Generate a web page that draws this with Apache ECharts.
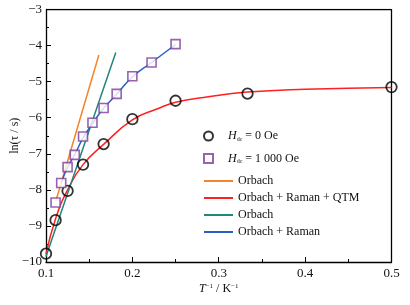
<!DOCTYPE html>
<html>
<head>
<meta charset="utf-8">
<script src="https://cdn.jsdelivr.net/npm/echarts@6/dist/echarts.min.js"></script>
<style>
  html, body { margin: 0; padding: 0; background: #fff; }
  #chart { width: 410px; height: 305px; }
</style>
</head>
<body>
<div id="chart"></div>
<script>
// data
const h0X = [0.1, 0.1111, 0.125, 0.1429, 0.1667, 0.2, 0.25, 0.3333, 0.5];
const h0Y = [-9.77, -8.84, -8.03, -7.30, -6.73, -6.04, -5.53, -5.33, -5.15];

const h1000X = [0.1111, 0.1176, 0.125, 0.1333, 0.1429, 0.1538, 0.1667, 0.1818, 0.2, 0.2222, 0.25];
const h1000Y = [-8.35, -7.81, -7.37, -7.03, -6.52, -6.14, -5.73, -5.34, -4.85, -4.47, -3.96];

// fitted curves (traced)
const orbach0X = [0.1115, 0.1612];
const orbach0Y = [-8.30, -4.26];
const qtmX = [0.1, 0.1111, 0.125, 0.1429, 0.1667, 0.2, 0.2283, 0.25, 0.2824, 0.3333, 0.4, 0.5];
const qtmY = [-9.78, -8.80, -8.00, -7.30, -6.74, -6.06, -5.76, -5.57, -5.44, -5.29, -5.21, -5.16];
const orbach1X = [0.1, 0.1808];
const orbach1Y = [-9.85, -4.19];
const ramanX = [0.1176, 0.125, 0.1333, 0.1429, 0.1538, 0.1667, 0.1818, 0.2, 0.2222, 0.25];
const ramanY = [-7.80, -7.38, -7.02, -6.56, -6.16, -5.74, -5.35, -4.87, -4.47, -3.97];

const xTicks = [0.1, 0.2, 0.3, 0.4, 0.5];
const yTicks = [-10, -9, -8, -7, -6, -5, -4, -3];

const FONT = '"Liberation Serif", "DejaVu Serif", serif';
const zip = (xs, ys) => xs.map((x, i) => [x, ys[i]]);

function lineSeries(name, xs, ys, color) {
  return {
    name: name,
    type: 'line',
    data: zip(xs, ys),
    smooth: xs.length > 2,
    symbol: 'none',
    lineStyle: { color: color, width: 1.5 },
    itemStyle: { color: color },
    z: 2
  };
}

const chart = echarts.init(document.getElementById('chart'));
chart.setOption({
  animation: false,
  textStyle: { fontFamily: FONT },
  grid: { left: 46, right: 18.5, top: 9.5, bottom: 43, outerBoundsMode: 'none' },
  legend: [
    {
      data: [
        { name: 'H0', icon: 'circle' },
        { name: 'H1000', icon: 'path://M0,0L10,0L10,10L0,10Z' }
      ],
      left: 198,
      top: 124,
      orient: 'vertical',
      itemWidth: 29,
      itemHeight: 9,
      itemGap: 8.5,
      symbolKeepAspect: true,
      formatter: function (name) {
        return name === 'H0'
          ? '{i|H}{sub|dc} = 0 Oe'
          : '{i|H}{sub|dc} = 1 000 Oe';
      },
      textStyle: {
        fontFamily: FONT, fontSize: 12, color: '#111', lineHeight: 14,
        rich: {
          i: { fontFamily: FONT, fontSize: 12, fontStyle: 'italic', color: '#111', lineHeight: 14 },
          sub: { fontFamily: FONT, fontSize: 6, color: '#111', lineHeight: 14, padding: [6, 0, 0, 0] }
        }
      }
    },
    {
      data: ['Orbach', 'Orbach + Raman + QTM', 'Orbach ', 'Orbach + Raman'],
      left: 198,
      top: 169,
      orient: 'vertical',
      itemWidth: 29,
      itemHeight: 10,
      itemGap: 3,
      itemStyle: { opacity: 0 },
      textStyle: { fontFamily: FONT, fontSize: 12, color: '#111', lineHeight: 14 }
    }
  ],
  xAxis: {
    type: 'value',
    min: 0.1,
    max: 0.5,
    interval: 0.1,
    name: '{i|T}{sup|\u22121} / K{sup|\u22121}',
    nameLocation: 'middle',
    nameGap: 21,
    nameMoveOverlap: false,
    nameTextStyle: {
      fontFamily: FONT, fontSize: 12, color: '#111',
      rich: {
        i: { fontFamily: FONT, fontSize: 12, fontStyle: 'italic', color: '#111' },
        sup: { fontFamily: FONT, fontSize: 7, color: '#111', padding: [0, 0, 5, 0] }
      }
    },
    axisLine: { show: true, lineStyle: { color: '#000', width: 1.3 } },
    axisTick: { inside: true, length: 5, lineStyle: { color: '#000' } },
    minorTick: { show: true, splitNumber: 2, length: 3, lineStyle: { color: '#000' } },
    axisLabel: {
      fontFamily: FONT, fontSize: 13, color: '#111', margin: 5,
      formatter: function (v) {
        return xTicks.find(t => Math.abs(t - v) < 1e-6).toFixed(1);
      }
    },
    splitLine: { show: false }
  },
  yAxis: {
    type: 'value',
    min: -10,
    max: -3,
    interval: 1,
    name: 'ln(\u03c4 / s)',
    nameLocation: 'middle',
    nameGap: 25,
    nameMoveOverlap: false,
    nameTextStyle: { fontFamily: FONT, fontSize: 12, color: '#111' },
    axisLine: { show: true, lineStyle: { color: '#000', width: 1.3 } },
    axisTick: { inside: true, length: 5, lineStyle: { color: '#000' } },
    minorTick: { show: true, splitNumber: 2, length: 3, lineStyle: { color: '#000' } },
    axisLabel: {
      fontFamily: FONT, fontSize: 13, color: '#111', margin: 4,
      formatter: function (v) {
        const t = yTicks.find(k => Math.abs(k - v) < 1e-6);
        return String(t).replace('-', '\u2212');
      }
    },
    splitLine: { show: false }
  },
  series: [
    // box: top and right edges
    {
      type: 'line',
      data: [[0.1, -3], [0.5, -3], [0.5, -10]],
      symbol: 'none',
      silent: true,
      lineStyle: { color: '#000', width: 1.3 },
      z: 1
    },
    {
      name: 'H0',
      type: 'scatter',
      data: zip(h0X, h0Y),
      symbol: 'circle',
      symbolSize: 10.5,
      itemStyle: { color: 'rgba(255,255,255,0)', borderColor: '#000', borderWidth: 1.8 },
      z: 5
    },
    {
      name: 'H1000',
      type: 'scatter',
      data: zip(h1000X, h1000Y),
      symbol: 'rect',
      symbolSize: 9,
      itemStyle: { color: '#fff', borderColor: '#7e3b99', borderWidth: 1.6 },
      z: 5
    },
    lineSeries('Orbach', orbach0X, orbach0Y, '#f5832a'),
    lineSeries('Orbach + Raman + QTM', qtmX, qtmY, '#ff2020'),
    lineSeries('Orbach ', orbach1X, orbach1Y, '#24857c'),
    lineSeries('Orbach + Raman', ramanX, ramanY, '#2a5ec2')
  ]
});
</script>
</body>
</html>
